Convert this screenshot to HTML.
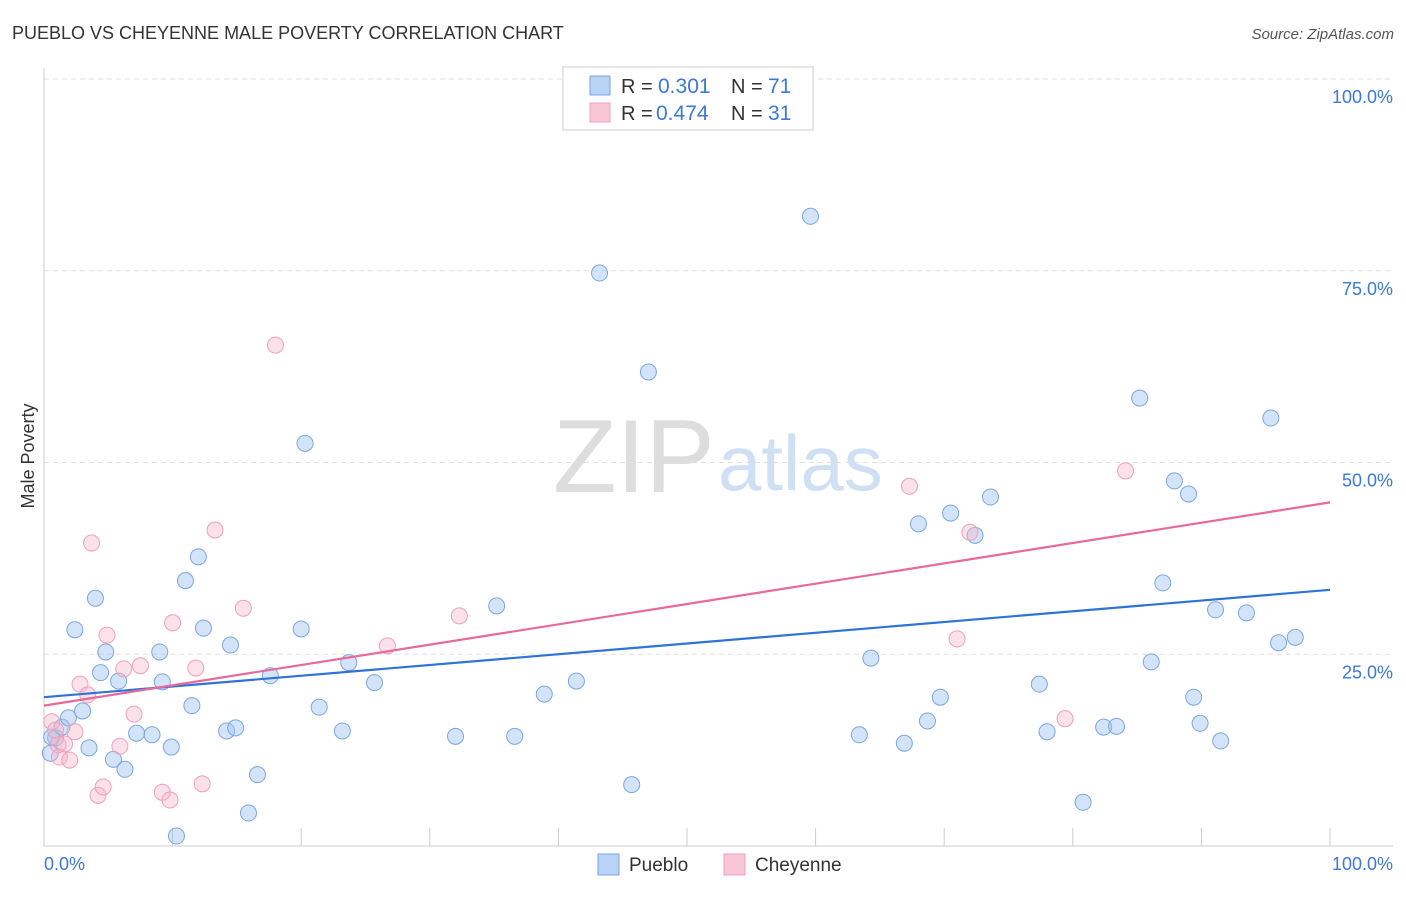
<!DOCTYPE html>
<html><head><meta charset="utf-8"><style>
body{margin:0;background:#fff;font-family:"Liberation Sans",sans-serif;}
svg text{font-family:"Liberation Sans",sans-serif;}
</style></head><body>
<svg id="chart" width="1406" height="892" xmlns="http://www.w3.org/2000/svg">
<text x="12" y="39" font-size="18" fill="#333">PUEBLO VS CHEYENNE MALE POVERTY CORRELATION CHART</text>
<text x="1394" y="39" font-size="15" fill="#555" font-style="italic" text-anchor="end">Source: ZipAtlas.com</text>
<g>
<text x="553" y="492" font-size="104" fill="#ddd" font-family="Liberation Serif, serif">ZIP</text>
<text x="718" y="490" font-size="78" fill="#cfe0f5">atlas</text>
</g>
<g id="grid"></g>
<g id="axes"></g>
<g id="marks"></g>
<text transform="translate(34,456) rotate(-90)" font-size="18" fill="#333" text-anchor="middle">Male Poverty</text>
<g>
<rect x="563" y="67" width="250" height="63" fill="#fff" stroke="#ccc"/>
<rect x="590" y="76" width="20" height="19" fill="#b9d3f5" stroke="#7aa6e0"/>
<rect x="590" y="103" width="20" height="19" fill="#f9c6d5" stroke="#f0a0b8"/>
<text x="621" y="93" font-size="20" fill="#333">R =</text>
<text x="658" y="93" font-size="21" fill="#3b78d8">0.301</text>
<text x="731" y="93" font-size="20" fill="#333">N =</text>
<text x="768" y="93" font-size="21" fill="#3b78d8">71</text>
<text x="621" y="120" font-size="20" fill="#333">R =</text>
<text x="656" y="120" font-size="21" fill="#3b78d8">0.474</text>
<text x="731" y="120" font-size="20" fill="#333">N =</text>
<text x="768" y="120" font-size="21" fill="#3b78d8">31</text>
</g>
<g>
<rect x="598" y="854" width="21" height="21" fill="#b9d3f5" stroke="#7aa6e0"/>
<text x="629" y="871" font-size="19" fill="#333">Pueblo</text>
<rect x="724" y="854" width="21" height="21" fill="#f9c6d5" stroke="#f0a0b8"/>
<text x="755" y="871" font-size="19" fill="#333">Cheyenne</text>
</g>
</svg>
<script>
const yTicks=[25,50,75,100];
const yTickLabels=["25.0%","50.0%","75.0%","100.0%"];
const xTicks=[10,20,30,40,50,60,70,80,90,100];
const puebloX=[0.5,0.9,0.6,1.4,1.9,3.0,2.4,4.0,4.4,4.8,3.5,5.4,5.8,6.3,7.2,8.4,9.0,9.2,9.9,11.0,12.0,11.5,12.4,10.3,14.5,14.2,14.9,16.6,15.9,17.6,20.0,20.3,21.4,23.2,23.7,25.7,32.0,35.2,36.6,38.9,41.4,43.2,45.7,47.0,59.6,63.4,64.3,66.9,68.0,68.7,69.7,70.5,72.4,73.6,77.4,78.0,80.8,82.4,83.4,85.2,86.1,87.0,87.9,89.0,89.4,89.9,91.1,91.5,93.5,95.4,96.0,97.3];
const puebloY=[12.1,14.1,14.2,15.5,16.7,17.6,28.2,32.3,22.6,25.3,12.8,11.3,21.5,10.0,14.7,14.5,25.3,21.4,12.9,34.6,37.7,18.3,28.4,1.3,26.2,15.0,15.4,9.3,4.3,22.2,28.3,52.5,18.1,15.0,23.9,21.3,14.3,31.3,14.3,19.8,21.5,74.7,8.0,61.8,82.1,14.5,24.5,13.4,42.0,16.3,19.4,43.4,40.5,45.5,21.1,14.9,5.7,15.5,15.6,58.4,24.0,34.3,47.6,45.9,19.4,16.0,30.8,13.7,30.4,55.8,26.5,27.2];
const cheyX=[0.6,0.9,1.1,1.2,1.6,2.0,2.4,2.8,3.4,3.7,4.2,4.6,4.9,5.9,6.2,7.0,7.5,9.2,9.8,10.0,11.8,12.3,13.3,15.5,18.0,26.7,32.3,67.3,71.0,72.0,79.4,84.1];
const cheyY=[16.2,15.1,13.2,11.6,13.3,11.2,14.9,21.1,19.7,39.5,6.6,7.7,27.5,13.0,23.1,17.2,23.5,7.0,6.0,29.1,23.2,8.1,41.2,31.0,65.3,26.1,30.0,46.9,27.0,40.9,16.6,48.9];
const puebloTrend=[19.4,33.4];
const cheyTrend=[18.3,44.8];
const NS="http://www.w3.org/2000/svg";
const X=v=>44+v*12.86, Y=v=>846-v*7.67;
function mk(tag,attrs,parent){const e=document.createElementNS(NS,tag);for(const k in attrs)e.setAttribute(k,attrs[k]);parent.appendChild(e);return e;}
const grid=document.getElementById('grid'),axes=document.getElementById('axes'),marks=document.getElementById('marks');
yTicks.forEach((t,i)=>{
 const l=mk('line',{x1:44,x2:1393,y1:Y(t),y2:Y(t),stroke:'#e0e0e0','stroke-dasharray':'5,4'},grid);
 
 
 const tx=mk('text',{x:1393,y:Y(t)+24,'font-size':18,fill:'#3b78d8','text-anchor':'end'},axes);
 tx.textContent=yTickLabels[i];
 
 
});
const ax=mk('line',{x1:44,x2:1393,y1:846,y2:846,stroke:'#ccc'},axes);


const ay=mk('line',{x1:44,x2:44,y1:68,y2:846,stroke:'#ccc'},axes);


xTicks.forEach(t=>{
 const l=mk('line',{x1:X(t),x2:X(t),y1:828,y2:846,stroke:'#ccc'},axes);
 
 
});
const x0=mk('text',{x:44,y:870,'font-size':18,fill:'#3b78d8'},axes);x0.textContent='0.0%';


const x1=mk('text',{x:1393,y:870,'font-size':18,fill:'#3b78d8','text-anchor':'end'},axes);x1.textContent='100.0%';


puebloX.forEach((v,i)=>{
 const c=mk('circle',{cx:X(v),cy:Y(puebloY[i]),r:8,fill:'rgba(160,195,240,0.45)',stroke:'#7aa6e0','stroke-width':1},marks);
 
 
});
cheyX.forEach((v,i)=>{
 const c=mk('circle',{cx:X(v),cy:Y(cheyY[i]),r:8,fill:'rgba(245,180,200,0.4)',stroke:'#f0a0b8','stroke-width':1},marks);
 
 
});
const pl=mk('line',{x1:X(0),x2:X(100),y1:Y(puebloTrend[0]),y2:Y(puebloTrend[1]),stroke:'#2f73d9','stroke-width':2.2},marks);


const cl=mk('line',{x1:X(0),x2:X(100),y1:Y(cheyTrend[0]),y2:Y(cheyTrend[1]),stroke:'#e8699a','stroke-width':2.2},marks);


</script>
</body></html>
